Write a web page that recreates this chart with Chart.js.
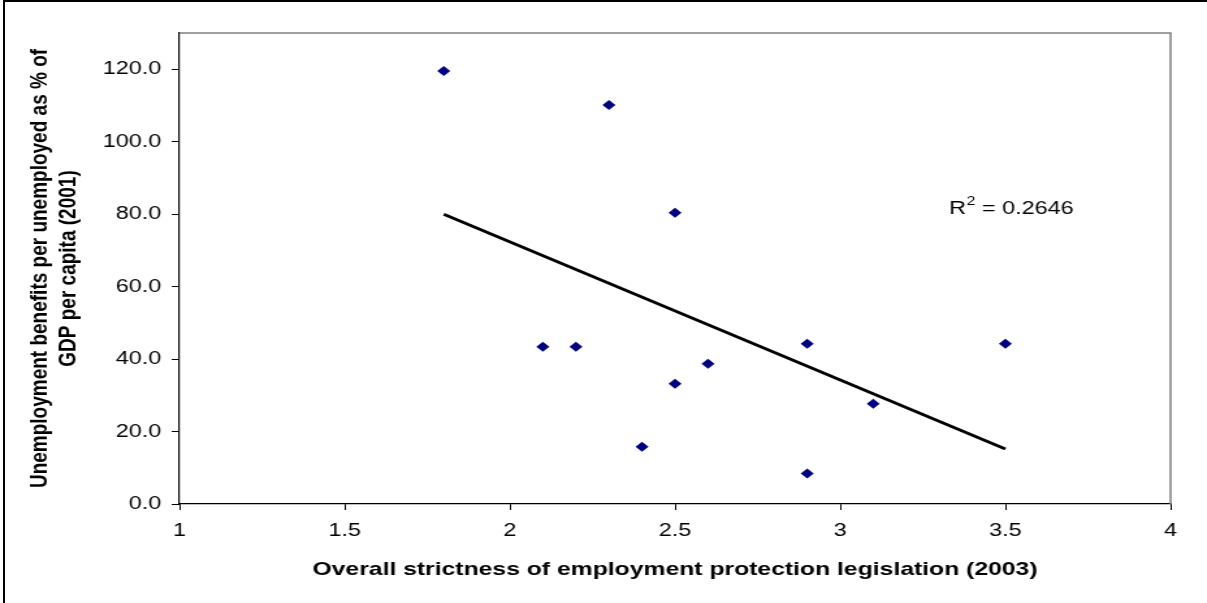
<!DOCTYPE html>
<html lang="en">
<head>
  <meta charset="UTF-8">
  <title>Employment protection vs unemployment benefits</title>
  <script src="https://cdn.jsdelivr.net/npm/chart.js"></script>
  <style>
    html, body {
      margin: 0;
      padding: 0;
      background: #fff;
      overflow: hidden;
    }
    #frame {
      position: absolute;
      left: 3px;
      top: 0;
      width: 1204px;
      height: 603px;
      border-top: 2px solid #000;
      border-left: 2px solid #000;
      box-sizing: border-box;
    }
    /* the original picture is stretched sideways, so the chart is drawn narrower and widened */
    #wrap {
      position: absolute;
      left: 0;
      top: 0;
      width: 928px;
      height: 603px;
      transform: scaleX(1.3006);
      transform-origin: 0 0;
    }
  </style>
</head>
<body>
  <div id="frame"></div>
  <div id="wrap">
    <canvas id="chart" width="928" height="603"></canvas>
  </div>

  <script>
    // Values
    const strictness = [1.8, 2.3, 2.5, 2.1, 2.2, 2.9, 3.5, 2.6, 2.5, 3.1, 2.4, 2.9];
    const benefits = [119.5, 110.1, 80.4, 43.4, 43.4, 44.2, 44.2, 38.7, 33.2, 27.7, 15.8, 8.4];

    // Linear trend line end points (as drawn in the picture)
    const trendX = [1.8, 3.5];
    const trendY = [80.0, 15.2];
    const rSquared = '0.2646';

    const fontFamily = '"Liberation Sans", Arial, sans-serif';

    const points = strictness.map((x, i) => ({ x: x, y: benefits[i] }));
    const trend = trendX.map((x, i) => ({ x: x, y: trendY[i] }));

    // gray top and right edge of the plot area, plus the R² label
    const extras = {
      id: 'extras',
      beforeDatasetsDraw(chart) {
        const { ctx, chartArea: a } = chart;
        ctx.save();
        ctx.strokeStyle = '#808080';
        ctx.lineWidth = 1.5;
        ctx.beginPath();
        ctx.moveTo(a.left, a.top);
        ctx.lineTo(a.right, a.top);
        ctx.lineTo(a.right, a.bottom);
        ctx.stroke();
        ctx.restore();
      },
      afterDatasetsDraw(chart) {
        const { ctx, scales } = chart;
        const x = scales.x.getPixelForValue(3.33);
        const y = scales.y.getPixelForValue(81.4);
        ctx.save();
        ctx.fillStyle = '#000';
        ctx.textBaseline = 'middle';
        ctx.textAlign = 'left';
        ctx.font = '18px ' + fontFamily;
        ctx.fillText('R', x, y);
        let w = ctx.measureText('R').width;
        ctx.font = '12px ' + fontFamily;
        ctx.fillText('2', x + w + 0.5, y - 7);
        w += ctx.measureText('2').width + 0.5;
        ctx.font = '18px ' + fontFamily;
        ctx.fillText(' = ' + rSquared, x + w, y);
        ctx.restore();
      }
    };

    new Chart(document.getElementById('chart'), {
      type: 'scatter',
      data: {
        datasets: [
          {
            label: 'Countries',
            data: points,
            pointStyle: 'rectRot',
            pointRadius: 5,
            pointHoverRadius: 5,
            backgroundColor: '#000080',
            borderColor: '#000080',
            borderWidth: 0
          },
          {
            type: 'line',
            label: 'Linear trend',
            data: trend,
            borderColor: '#000',
            borderWidth: 2.8,
            pointRadius: 0,
            fill: false
          }
        ]
      },
      options: {
        responsive: false,
        animation: false,
        layout: { padding: { left: 0, right: 28, top: 33, bottom: 0 } },
        plugins: {
          legend: { display: false },
          tooltip: { enabled: false }
        },
        scales: {
          x: {
            type: 'linear',
            min: 1,
            max: 4,
            afterFit(scale) { scale.height = 99; },
            border: { display: true, color: '#000', width: 1.2 },
            grid: { drawOnChartArea: false, drawTicks: true, tickLength: 6, color: '#000' },
            ticks: {
              stepSize: 0.5,
              padding: 10,
              color: '#000',
              font: { family: fontFamily, size: 18 },
              callback: v => String(v)
            },
            title: {
              display: true,
              text: 'Overall strictness of employment protection legislation (2003)',
              color: '#000',
              font: { family: fontFamily, size: 19, weight: 'bold', lineHeight: 1.2 },
              padding: { top: 0, bottom: 21.5 }
            }
          },
          y: {
            type: 'linear',
            min: 0,
            max: 130,
            afterFit(scale) { scale.width = 138; },
            border: { display: true, color: '#000', width: 1.2 },
            grid: { drawOnChartArea: false, drawTicks: true, tickLength: 6, color: '#000' },
            ticks: {
              stepSize: 20,
              includeBounds: false,
              padding: 8,
              color: '#000',
              font: { family: fontFamily, size: 18 },
              callback: v => v.toFixed(1)
            },
            title: {
              display: true,
              text: ['Unemployment benefits per unemployed as % of', 'GDP per capita (2001)'],
              color: '#000',
              font: { family: fontFamily, size: 19, weight: 'bold', lineHeight: 1.13 },
              padding: { top: 20.5, bottom: 0 }
            }
          }
        }
      },
      plugins: [extras]
    });
  </script>
</body>
</html>
